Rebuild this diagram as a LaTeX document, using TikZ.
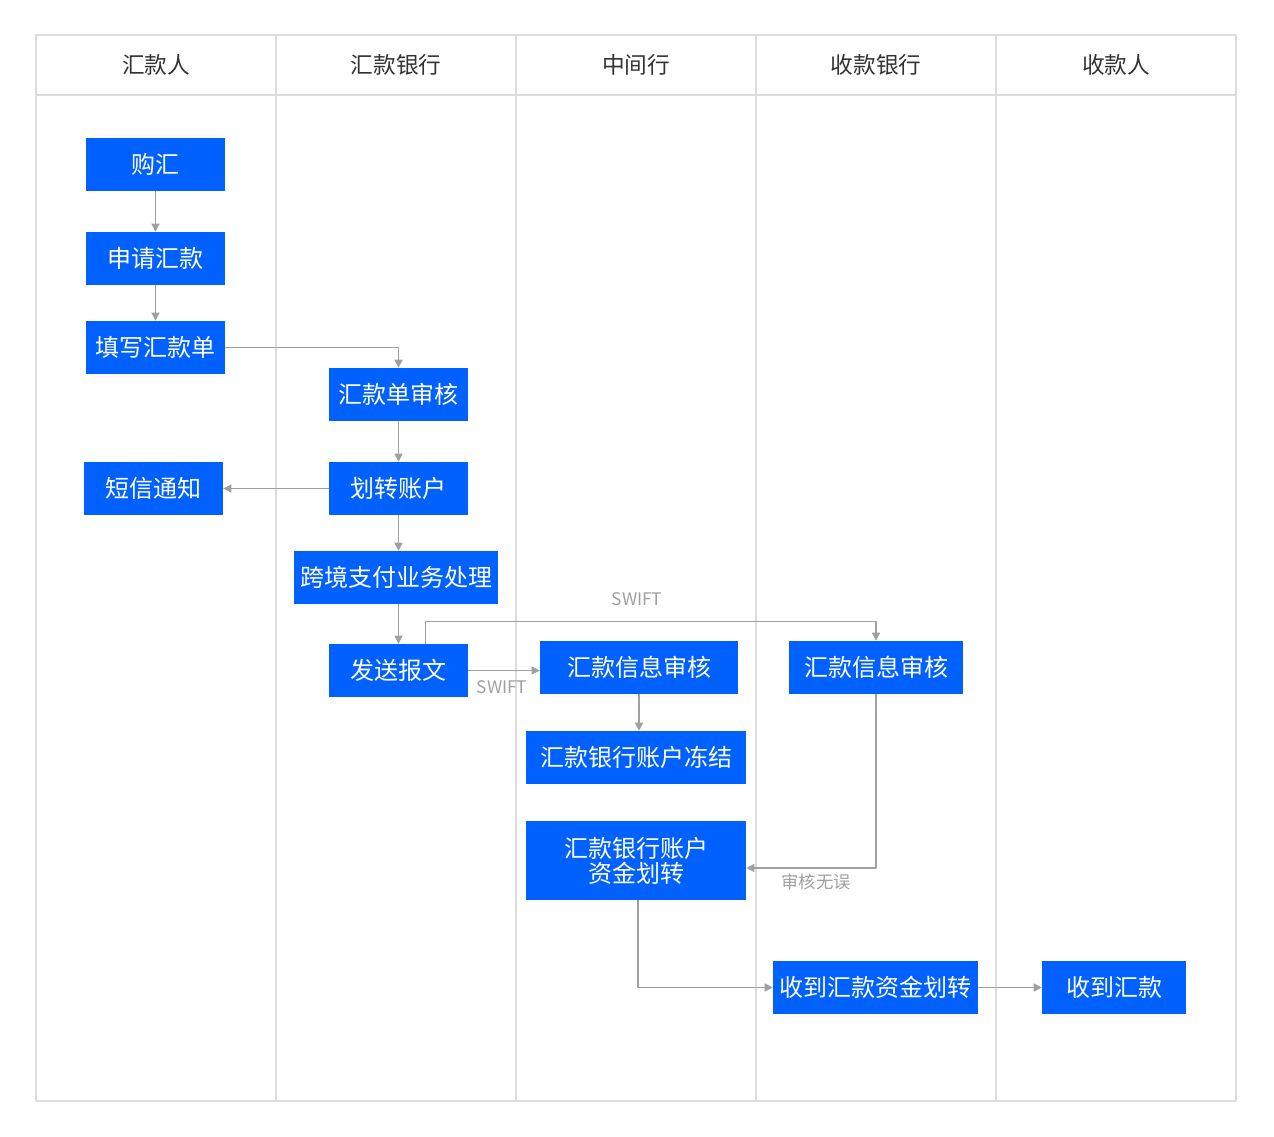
\documentclass[tikz,border=0pt]{standalone}
\usepackage{fontspec}
\setmainfont{Noto Sans CJK SC}
\usetikzlibrary{arrows.meta}
\definecolor{flowblue}{RGB}{0,97,255}
\definecolor{lanegray}{RGB}{220,220,220}
\definecolor{linkgray}{RGB}{160,160,160}
\definecolor{headtext}{RGB}{51,51,51}

\begin{document}
\begin{tikzpicture}[x=0.75pt, y=-0.75pt, line join=round,
	box/.style={fill=flowblue, text=white, minimum height=39.75pt, inner sep=0pt, align=center, font=\fontsize{18}{19}\selectfont},
	arr/.style={draw=linkgray, line width=1pt, -{Triangle[length=6pt,width=6pt]}},
	lbl/.style={text=linkgray, font=\fontsize{13}{15}\selectfont},
	lane/.style={draw=lanegray, line width=1.1pt},
	head/.style={text=headtext, font=\fontsize{17}{19}\selectfont}]
	\useasboundingbox (0,0) rectangle (1274,1136);
	% lanes
	\draw[lane] (36,35) rectangle (1236,1101);
	\draw[lane] (36,95) -- (1236,95);
	\foreach \x in {276,516,756,996}{\draw[lane] (\x,35) -- (\x,1101);}
	\foreach \x/\t [count=\i] in {156/汇款人, 396/汇款银行, 636/中间行, 876/收款银行, 1116/收款人}{\node[head] (h\i) at (\x,65) {\t};}
	% remitter
	\node[box, minimum width=104.25pt] (buy) at (155.5,164.5) {购汇};
	\node[box, minimum width=104.25pt] (apply) at (155.5,258.5) {申请汇款};
	\node[box, minimum width=104.25pt] (form) at (155.5,347.5) {填写汇款单};
	\node[box, minimum width=104.25pt] (sms) at (153.5,488.5) {短信通知};
	% remitting bank
	\node[box, minimum width=104.25pt] (check) at (398.5,394.5) {汇款单审核};
	\node[box, minimum width=104.25pt] (move) at (398.5,488.5) {划转账户};
	\node[box, minimum width=153pt] (cross) at (396,577.5) {跨境支付业务处理};
	\node[box, minimum width=104.25pt] (send) at (398.5,670.5) {发送报文};
	% intermediary
	\node[box, minimum width=148.5pt] (midchk) at (639,667.5) {汇款信息审核};
	\node[box, minimum width=165pt] (freeze) at (636,757.5) {汇款银行账户冻结};
	\node[box, minimum width=165pt, minimum height=59.25pt] (fund) at (636,860.5) {汇款银行账户\\资金划转};
	% receiving bank
	\node[box, minimum width=130.5pt] (rcvchk) at (876,667.5) {汇款信息审核};
	\node[box, minimum width=153.75pt] (got) at (875.5,987.5) {收到汇款资金划转};
	% payee
	\node[box, minimum width=108pt] (done) at (1114,987.5) {收到汇款};
	% links
	\draw[arr] (buy) -- (apply);
	\draw[arr] (apply) -- (form);
	\draw[arr] (form.east) -| (check.north);
	\draw[arr] (check) -- (move);
	\draw[arr] (move.west) -- (move.west -| sms.east);
	\draw[arr] (move.south) -- (move.south |- cross.north);
	\draw[arr] (send.north |- cross.south) -- (send.north);
	\draw[arr] (send.east) -- (send.east -| midchk.west);
	\draw[arr] ([xshift=20pt]send.north) -- ++(0,-22) -| (rcvchk.north);
	\draw[arr] (midchk.south) -- (midchk.south |- freeze.north);
	\draw[arr] (rcvchk.south) |- ([yshift=-5.6pt]fund.east);
	\draw[arr] ([xshift=1.5pt]fund.south) |- (got.west);
	\draw[arr] (got) -- (done);
	\node[lbl] (swift1) at (502,687) {SWIFT};
	\node[lbl] (swift2) at (637,599) {SWIFT};
	\node[lbl] (ok) at (816,882) {审核无误};
\end{tikzpicture}
\end{document}
